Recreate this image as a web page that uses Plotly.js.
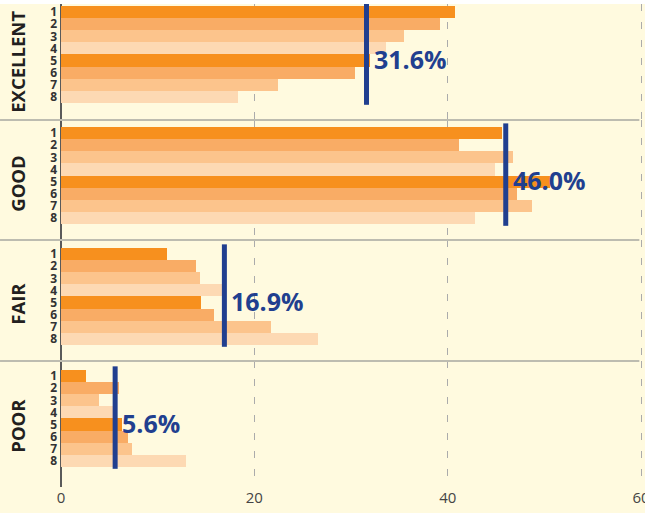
<!DOCTYPE html>
<html><head><meta charset="utf-8">
<script src="https://cdn.plot.ly/plotly-3.0.1.min.js"></script>
<style>html,body{margin:0;padding:0;background:#fffadf;}#chart{width:645px;height:513px;}</style>
</head><body><div id="chart"></div>
<script>
const groups = ['EXCELLENT', 'GOOD', 'FAIR', 'POOR'];
const rows = ['1', '2', '3', '4', '5', '6', '7', '8'];
const excellent = [40.8, 39.2, 35.5, 33.6, 32.0, 30.4, 22.4, 18.3];
const good = [45.6, 41.2, 46.8, 44.9, 50.6, 47.2, 48.7, 42.8];
const fair = [11.0, 14.0, 14.4, 16.7, 14.5, 15.8, 21.7, 26.6];
const poor = [2.6, 6.0, 3.9, 5.4, 6.3, 6.9, 7.3, 12.9];
const averages = [31.6, 46.0, 16.9, 5.6];
const averageLabels = ['31.6%', '46.0%', '16.9%', '5.6%'];
const xTicks = [0, 20, 40, 60];

const series = [excellent, good, fair, poor];
const rowColors = ['#F7901E', '#F9AC65', '#FCC48C', '#FDD9B3', '#F7901E', '#F9AC65', '#FCC48C', '#FDD9B3'];
const FONT = 'Open Sans, Liberation Sans, sans-serif';
const BLUE = '#213F8F';

const domains = [[0.7598, 1], [0.5114, 0.7598], [0.2609, 0.5114], [0, 0.2609]];
const ranges = [[8.905, -0.665], [8.82, -1.078], [8.82, -1.16], [9.15, -1.243]];

const traces = series.map((vals, i) => ({
  type: 'bar', orientation: 'h',
  x: vals, y: rows,
  xaxis: 'x', yaxis: i === 0 ? 'y' : 'y' + (i + 1),
  marker: {color: rowColors, line: {width: 0}},
  hoverinfo: 'skip', showlegend: false
}));

const layout = {
  width: 645, height: 513,
  margin: {l: 61, r: 1, t: 4, b: 26},
  paper_bgcolor: '#FFFADF', plot_bgcolor: '#FFFADF',
  bargap: 0,
  font: {family: FONT},
  showlegend: false,
  xaxis: {
    range: [0, 60.3], tickmode: 'array', tickvals: xTicks, ticktext: xTicks.map(String),
    showgrid: true, gridcolor: '#ababab', gridwidth: 1, griddash: '7px,11px',
    zeroline: true, zerolinecolor: '#5a5a5a', zerolinewidth: 2,
    showline: false, ticks: '', anchor: 'y4', ticklabeloverflow: 'allow',
    tickfont: {family: FONT, size: 15, color: '#444'}, fixedrange: true
  },
  shapes: [], annotations: []
};

groups.forEach((g, i) => {
  const key = i === 0 ? 'yaxis' : 'yaxis' + (i + 1);
  const yref = i === 0 ? 'y' : 'y' + (i + 1);
  layout[key] = {
    type: 'category', domain: domains[i], range: ranges[i],
    tickmode: 'array', tickvals: rows, ticktext: rows,
    showgrid: false, zeroline: false, showline: false, ticks: '',
    ticklabelstandoff: 3, anchor: 'x', fixedrange: true,
    tickfont: {family: FONT, size: 12, weight: 700, color: '#333'}
  };
  layout.shapes.push({
    type: 'line', xref: 'x', yref: yref,
    x0: averages[i], x1: averages[i], y0: -0.8, y1: 7.65,
    line: {color: BLUE, width: 5}, layer: 'above'
  });
  if (i > 0) {
    layout.shapes.push({
      type: 'line', xref: 'paper', yref: 'paper',
      x0: -0.1046, x1: 0.992, y0: domains[i][1], y1: domains[i][1],
      line: {color: '#bdbcb0', width: 2}, layer: 'above'
    });
  }
  layout.annotations.push({
    xref: 'x', yref: yref, x: averages[i], y: 3.9,
    text: averageLabels[i], showarrow: false,
    xanchor: 'left', yanchor: 'middle', xshift: 5,
    font: {family: FONT, size: 25, weight: 700, color: BLUE}
  });
  layout.annotations.push({
    xref: 'paper', yref: yref, x: -0.0738, y: 4.1,
    text: g, showarrow: false, textangle: -90,
    xanchor: 'center', yanchor: 'middle',
    font: {family: FONT, size: 18.5, weight: 700, color: '#231f20'}
  });
});

layout.shapes.push({
  type: 'rect', xref: 'paper', yref: 'paper',
  x0: -0.2, x1: 1.1, y0: 1, y1: 1.02,
  fillcolor: '#ffffff', line: {width: 0}, layer: 'above'
});

Plotly.newPlot('chart', traces, layout, {staticPlot: true, displayModeBar: false});
</script>
</body></html>
